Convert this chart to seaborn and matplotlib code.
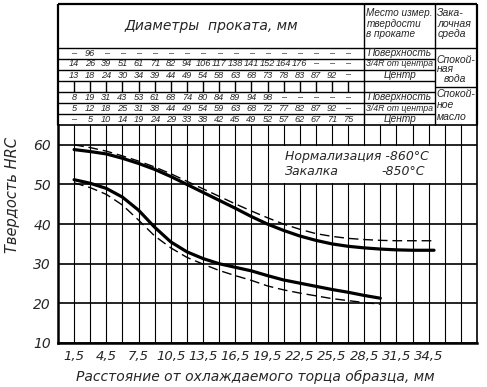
import matplotlib
matplotlib.use('Agg')
import matplotlib.pyplot as plt
import seaborn as sns
import pandas as pd
from matplotlib.patches import Rectangle

# distances from the quenched end, mm
dist_upper = [1.5, 3, 4.5, 6, 7.5, 9, 10.5, 12, 13.5, 15, 16.5, 18, 19.5, 21,
              22.5, 24, 25.5, 27, 28.5, 30, 31.5, 33, 34.5, 35]
upper_solid = [58.8, 58.3, 57.7, 56.6, 55.3, 53.8, 52.0, 50.0, 48.0, 46.0, 44.0, 41.9,
               40.0, 38.4, 37.0, 35.9, 35.0, 34.4, 34.0, 33.7, 33.5, 33.4, 33.4, 33.4]
upper_dash = [60.0, 59.3, 58.4, 57.2, 55.9, 54.4, 52.7, 50.8, 48.9, 47.0, 45.1, 43.3,
              41.6, 40.0, 38.7, 37.6, 36.9, 36.4, 36.1, 35.9, 35.8, 35.8, 35.8, 35.8]

dist_lower = [1.5, 3, 4.5, 6, 7.5, 9, 10.5, 12, 13.5, 15, 16.5, 18, 19.5, 21,
              22.5, 24, 25.5, 27, 28.5, 30]
lower_solid = [51.2, 50.3, 49.0, 46.8, 43.5, 39.2, 35.5, 33.0, 31.3, 30.0, 29.1, 28.2,
               27.0, 25.9, 25.1, 24.3, 23.5, 22.8, 22.0, 21.3]
lower_dash = [50.4, 49.2, 47.5, 44.8, 41.0, 37.0, 34.0, 31.6, 29.9, 28.3, 27.0, 25.8,
              24.4, 23.4, 22.6, 21.9, 21.2, 20.7, 20.2, 19.8]

# table: bar diameters (mm) for each Jominy distance 1.5 ... 27 mm
table_pos = [1.5, 3, 4.5, 6, 7.5, 9, 10.5, 12, 13.5, 15, 16.5, 18, 19.5, 21, 22.5, 24, 25.5, 27]
water_surface = ['–', '96', '–', '–', '–', '–', '–', '–', '–', '–', '–', '–', '–', '–', '–', '–', '–', '–']
water_34r = ['14', '26', '39', '51', '61', '71', '82', '94', '106', '117', '138', '141', '152', '164', '176', '–', '–', '–']
water_center = ['13', '18', '24', '30', '34', '39', '44', '49', '54', '58', '63', '68', '73', '78', '83', '87', '92', '–']
oil_surface = ['8', '19', '31', '43', '53', '61', '68', '74', '80', '84', '89', '94', '98', '–', '–', '–', '–', '–']
oil_34r = ['5', '12', '18', '25', '31', '38', '44', '49', '54', '59', '63', '68', '72', '77', '82', '87', '92', '–']
oil_center = ['–', '5', '10', '14', '19', '24', '29', '33', '38', '42', '45', '49', '52', '57', '62', '67', '71', '75']

place_labels = ['Поверхность', '3/4R от центра', 'Центр']
xtick_pos = [1.5, 3, 4.5, 6, 7.5, 9, 10.5, 12, 13.5, 15, 16.5, 18, 19.5, 21, 22.5, 24,
             25.5, 27, 28.5, 30, 31.5, 33, 34.5, 36, 37.5]
xtick_lab = ['1,5', '', '4,5', '', '7,5', '', '10,5', '', '13,5', '', '16,5', '', '19,5', '',
             '22,5', '', '25,5', '', '28,5', '', '31,5', '', '34,5', '', '']
ytick_pos = [10, 20, 30, 40, 50, 60]

sns.set_style('white')
plt.rcParams['font.family'] = ['DejaVu Sans']
plt.rcParams['font.style'] = 'italic'
small = ['Liberation Sans', 'DejaVu Sans']

fig = plt.figure(figsize=(4.87, 3.87), dpi=100)
ax = fig.add_axes([58 / 487, 1 - 343 / 387, 419 / 487, 218 / 387])

ax.set_xlim(0, 39)
ax.set_ylim(10, 65)
ax.set_xticks(xtick_pos)
ax.set_xticklabels(xtick_lab, fontsize=9.5)
ax.set_yticks(ytick_pos)
ax.set_yticklabels([str(v) for v in ytick_pos], fontsize=10)
ax.tick_params(length=0, pad=5)
ax.set_axisbelow(True)
ax.xaxis.grid(True, color='black', lw=0.8)
ax.yaxis.grid(True, color='black', lw=1.2)
for s in ax.spines.values():
    s.set_color('black')
    s.set_linewidth(1.2)
ax.spines['left'].set_linewidth(1.8)
ax.spines['bottom'].set_linewidth(1.8)

# white box behind the heat treatment note
ax.add_patch(Rectangle((20.9, 50.3), 13.8, 9.4, facecolor='white', edgecolor='none', zorder=1))
ax.text(21.1, 57.0, 'Нормализация -860°С', fontsize=9, va='center', zorder=3)
ax.text(21.1, 53.2, 'Закалка', fontsize=9, va='center', zorder=3)
ax.text(34.2, 53.2, '-850°С', fontsize=9, va='center', ha='right', zorder=3)

df_up = pd.DataFrame({'dist': dist_upper, 'solid': upper_solid, 'dash': upper_dash})
df_lo = pd.DataFrame({'dist': dist_lower, 'solid': lower_solid, 'dash': lower_dash})
for d in (df_up, df_lo):
    sns.lineplot(data=d, x='dist', y='solid', color='black', lw=2.3, ax=ax, zorder=3)
    sns.lineplot(data=d, x='dist', y='dash', color='black', lw=1.0, ax=ax, zorder=3,
                 dashes=False, linestyle=(0, (7, 3.5)))

ax.set_xlabel('Расстояние от охлаждаемого торца образца, мм', fontsize=10)
ax.set_ylabel('Твердость HRC', fontsize=10.5)
ax.xaxis.set_label_coords(0.47, -0.125)
ax.yaxis.set_label_coords(-0.09, 0.68)

# table above the chart (y in pixel rows of the figure)
tab = fig.add_axes([58 / 487, 1 - 125 / 387, 419 / 487, 121 / 387])
tab.set_xlim(0, 39)
tab.set_ylim(125, 4)
tab.axis('off')
kw = dict(color='black', lw=1.0, clip_on=False)
x_place, x_medium = 28.5, 35.1
tab.hlines(4, 0, 39, color='black', lw=1.6, clip_on=False)
tab.hlines(48, 0, 39, **kw)
for y in [58.5, 69.5, 80.5, 92, 103, 114]:
    tab.hlines(y, 0, x_medium, **kw)
tab.hlines(87, x_medium, 39, **kw)
tab.vlines([0, 39], 4, 125, color='black', lw=1.6, clip_on=False)
tab.vlines([x_place, x_medium], 4, 125, **kw)
tab.vlines(table_pos, 80.5, 92, **kw)

tab.text(x_place / 2, 26, 'Диаметры  проката, мм', fontsize=10, ha='center', va='center')
for txt, y in [('Место измер.', 13), ('твердости', 23.5), ('в прокате', 34)]:
    tab.text(x_place + 0.2, y, txt, fontsize=7.2, va='center', family=small)
for txt, y in [('Зака-', 13), ('лочная', 24), ('среда', 34)]:
    tab.text(x_medium + 0.2, y, txt, fontsize=7.6, va='center', family=small)

rows_water = [water_surface, water_34r, water_center]
rows_oil = [oil_surface, oil_34r, oil_center]
for block, ys in [(rows_water, [53.2, 64, 75]), (rows_oil, [97.5, 108.5, 119.5])]:
    for row, y in zip(block, ys):
        for x, v in zip(table_pos, row):
            tab.text(x, y, v, fontsize=6.6, ha='center', va='center', family=small)
    for lab, y in zip(place_labels, ys):
        tab.text((x_place + x_medium) / 2, y, lab, fontsize=6.3 if '/' in lab else 7.3,
                 ha='center', va='center', family=small)

for txt, x, y in [('Спокой-', 0.15, 60), ('ная', 0.15, 69.5), ('вода', 0.8, 79),
                  ('Спокой-', 0.15, 94), ('ное', 0.15, 105), ('масло', 0.15, 116.5)]:
    tab.text(x_medium + x, y, txt, fontsize=7.5, va='center', family=small)

fig.savefig('out.png', dpi=100)
